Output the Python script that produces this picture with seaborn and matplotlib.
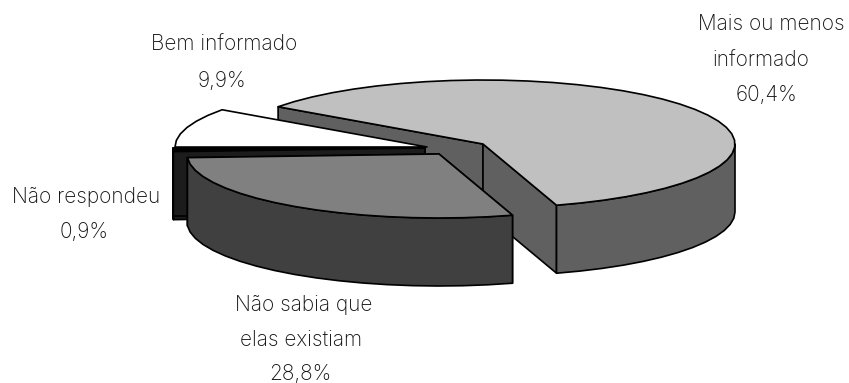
import numpy as np
import matplotlib
matplotlib.use("Agg")
import matplotlib.pyplot as plt
from matplotlib.patches import Polygon
import seaborn as sns

categories = ["Mais ou menos\ninformado", "Não sabia que\nelas existiam", "Não respondeu", "Bem informado"]
values = [60.4, 28.8, 0.9, 9.9]
labels = ["60,4%", "28,8%", "0,9%", "9,9%"]
top_colors = ["#c0c0c0", "#808080", "#000000", "#ffffff"]
side_colors = ["#606060", "#404040", "#1c1c1c", "#ffffff"]
apex_x = [483, 439, 425, 427]
apex_y = [144, 154, 148, 147]
draw_rank = [0, 3, 2, 1]

sns.set_theme(style="white")
plt.rcParams["font.family"] = ["Inter", "DejaVu Sans"]

A, B, H, START = 252, 64, 68, -54.4
LW = 1.2

fig, ax = plt.subplots(figsize=(8.49, 3.83), dpi=100)
fig.subplots_adjust(0, 0, 1, 1)
ax.set_xlim(0, 849)
ax.set_ylim(383, 0)
ax.axis("off")


def rim(ax0, ay0, t0, t1):
    n = max(2, int(abs(t1 - t0) / 6) + 2)
    t = np.radians(np.linspace(t0, t1, n))
    return np.column_stack([ax0 + A * np.sin(t), ay0 - B * np.cos(t)])


def poly(pts, color, z):
    ax.add_patch(Polygon(pts, closed=True, fc=color, ec="black", lw=LW, joinstyle="round", zorder=z))


edges = START + np.concatenate([[0], np.cumsum(values)]) * 3.6
for i in range(len(values)):
    t0, t1 = edges[i], edges[i + 1]
    x0, y0 = apex_x[i], apex_y[i]
    apex = np.array([x0, y0])
    down = np.array([0, H])
    z = draw_rank[i] * 10
    p0 = rim(x0, y0, t0, t0)[0]
    p1 = rim(x0, y0, t1, t1)[0]
    if i != 3:
        # radial walls
        poly([p0, apex, apex + down, p0 + down], side_colors[i], z + 1)
        poly([p1, apex, apex + down, p1 + down], side_colors[i], z + 2)
        # front rim
        a, b = max(t0, 90), min(t1, 270)
        if a < b:
            r = rim(x0, y0, a, b)
            poly(np.vstack([r, (r + down)[::-1]]), side_colors[i], z + 3)
    poly(np.vstack([apex, rim(x0, y0, t0, t1)]), top_colors[i], z + 4)

txt = dict(ha="center", va="center", fontsize=15, fontweight="light", color="#111111", zorder=100)
ax.text(771, 24, "Mais ou menos", **txt)
ax.text(761, 60, "informado", **txt)
ax.text(767, 95, labels[0], **txt)
ax.text(224, 44, categories[3], **txt)
ax.text(222, 81, labels[3], **txt)
ax.text(86, 197, categories[2], **txt)
ax.text(84, 232, labels[2], **txt)
ax.text(304, 305, "Não sabia que", **txt)
ax.text(301, 340, "elas existiam", **txt)
ax.text(300, 374, labels[1], **txt)

fig.savefig("out.png", dpi=100, facecolor="white")
